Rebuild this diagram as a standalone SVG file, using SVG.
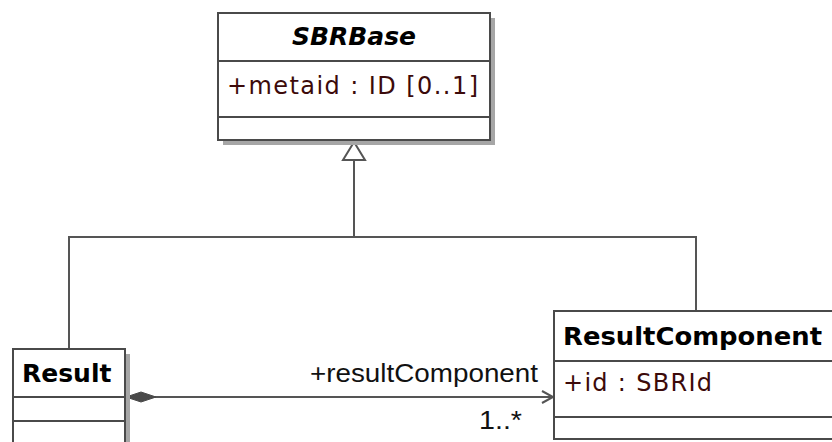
<svg xmlns="http://www.w3.org/2000/svg" width="832" height="442" viewBox="0 0 832 442">
<style>
.box{fill:#fff;stroke:#4a4a4a;stroke-width:2}
.shadow{fill:#a6a6a6}
.div{stroke:#4a4a4a;stroke-width:2}
.title{font-family:"DejaVu Sans",sans-serif;font-weight:bold;font-size:25px;fill:#000}
.attr{font-family:"DejaVu Sans",sans-serif;font-size:24px;fill:#3c0a0a}
.conn{fill:none;stroke:#555;stroke-width:2}
.lbl{font-family:"Liberation Sans",Arial,sans-serif;font-size:25px;fill:#111}
</style>
<rect width="832" height="442" fill="#fff"/>
<g id="connectors">
<path class="conn" d="M69 349 V237 H696 V311"/>
<path class="conn" d="M354 237 V160"/>
<polygon points="354,142 343,160 365,160" fill="#fff" stroke="#555" stroke-width="2"/>
<line class="conn" x1="126" y1="397" x2="553" y2="397"/>
<polygon points="126,397 141,392 156,397 141,402" fill="#4a4a4a" stroke="#4a4a4a" stroke-width="1"/>
<polyline class="conn" points="542,391 553,397 542,403"/>
<text class="lbl" x="310" y="382" textLength="228" lengthAdjust="spacingAndGlyphs">+resultComponent</text>
<text class="lbl" x="479" y="429" textLength="43" lengthAdjust="spacingAndGlyphs">1..*</text>
</g>
<g id="SBRBase">
<rect class="shadow" x="223" y="18" width="272" height="127"/>
<rect class="box" x="218" y="13" width="272" height="127"/>
<line class="div" x1="218" y1="61" x2="490" y2="61"/>
<line class="div" x1="218" y1="117" x2="490" y2="117"/>
<text class="title" x="354" y="45" text-anchor="middle" font-style="italic">SBRBase</text>
<text class="attr" x="227" y="94" textLength="251" lengthAdjust="spacing">+metaid : ID [0..1]</text>
</g>
<g id="Result">
<rect class="shadow" x="18" y="354" width="112" height="120"/>
<rect class="box" x="13" y="349" width="112" height="120"/>
<line class="div" x1="13" y1="397" x2="125" y2="397"/>
<line class="div" x1="13" y1="421" x2="125" y2="421"/>
<text class="title" x="22" y="382">Result</text>
</g>
<g id="ResultComponent">
<rect class="box" x="554" y="311" width="300" height="128"/>
<line class="div" x1="554" y1="361" x2="854" y2="361"/>
<line class="div" x1="554" y1="417" x2="854" y2="417"/>
<text class="title" x="563" y="345" textLength="259" lengthAdjust="spacingAndGlyphs">ResultComponent</text>
<text class="attr" x="563" y="391" textLength="149" lengthAdjust="spacing">+id : SBRId</text>
</g>
</svg>
